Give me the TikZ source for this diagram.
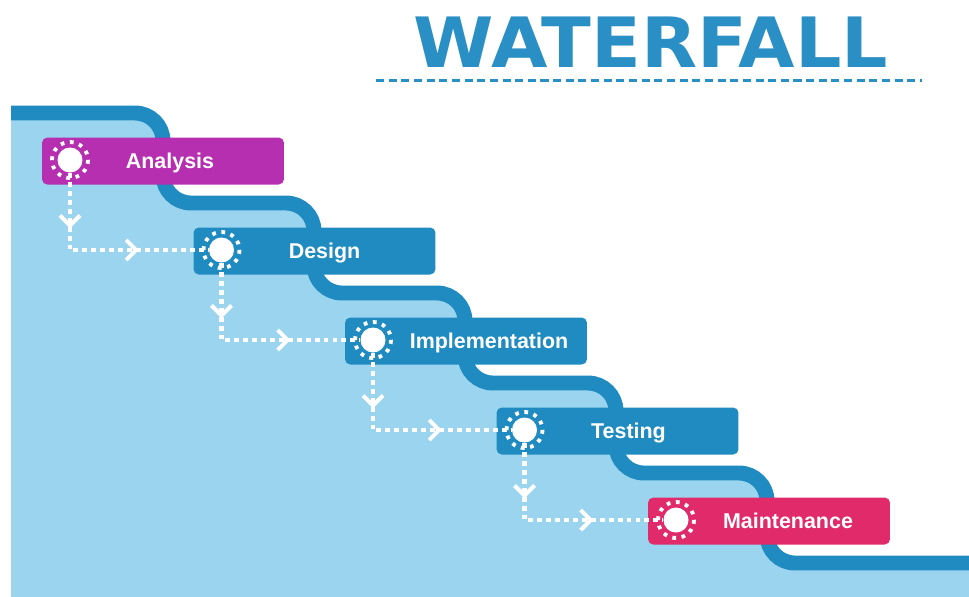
\documentclass[tikz,border=0pt]{standalone}
\usepackage{fontspec}
\setmainfont{Liberation Sans}
\newfontfamily\titlefont{DejaVu Sans}
\usetikzlibrary{decorations.markings}
\definecolor{waterblue}{HTML}{9BD4EE}
\definecolor{stairblue}{HTML}{1F8BC0}
\definecolor{titleblue}{HTML}{2A8FC4}
\definecolor{analysiscol}{HTML}{B52FB0}
\definecolor{maintcol}{HTML}{E02A6A}
\newcommand{\flowtip}{\draw[solid,white,line width=2.3pt] (-7,-10) -- (3,0) -- (-7,10);}

\begin{document}
\begin{tikzpicture}[x=0.02cm,y=-0.02cm,
    stair/.style={draw=stairblue,line width=8.5pt,rounded corners=0.56cm},
    phase/.style={rectangle,rounded corners=3pt,minimum width=4.84cm,minimum height=0.94cm,inner sep=0pt},
    phasetext/.style={anchor=base,text=white,font=\fontsize{12.2}{14}\selectfont\bfseries},
    bullet/.style={circle,fill=white,minimum size=0.5cm,inner sep=0pt},
    ring/.style={draw=white,line width=2.2pt,dash pattern=on 0.075cm off 0.113cm},
    flow/.style={draw=white,line width=2.3pt,dash pattern=on 2.8pt off 2.3pt,
        postaction={decorate},
        decoration={markings,mark=at position 0.23 with {\flowtip},mark=at position 0.65 with {\flowtip}}}]
    \useasboundingbox (0,0) rectangle (969,596);
    \clip (0,0) rectangle (969,596);

    % Title with dashed underline
    \node[anchor=base,text=titleblue,font=\titlefont\fontsize{39.5}{44}\selectfont\bfseries] (title) at (651,67)
        {\scalebox{1.05}[1]{WATERFALL}};
    \draw[titleblue,line width=1.7pt,dash pattern=on 4.6pt off 2.6pt] (376,80) -- (922,80);

    % Water below the stairs
    \fill[waterblue,rounded corners=0.56cm] (11,113) -- (163,113) -- (163,203) -- (314,203) -- (314,293)
        -- (465,293) -- (465,383) -- (616,383) -- (616,473) -- (767,473) -- (767,563) -- (980,563)
        [sharp corners] -- (980,600) -- (11,600) -- cycle;

    % Stair line
    \draw[stair] (11,113) -- (163,113) -- (163,203) -- (314,203) -- (314,293) -- (465,293) -- (465,383)
        -- (616,383) -- (616,473) -- (767,473) -- (767,563) -- (985,563);

    % Phase boxes, bullets and names
    \foreach \name/\txt/\col/\off [count=\i from 0] in
        {ana/Analysis/analysiscol/100, des/Design/stairblue/103, imp/Implementation/stairblue/116,
         tes/Testing/stairblue/104, mai/Maintenance/maintcol/112}
    {
        \pgfmathsetmacro\cx{70+151.5*\i}
        \pgfmathsetmacro\cy{160+90*\i}
        \node[phase,fill=\col] (\name box) at (\cx+93,\cy+1) {};
        \node[bullet] (\name) at (\cx,\cy) {};
        \draw[ring] (\name) circle (18);
        \node[phasetext] (\name text) at (\cx+\off,\cy+8) {\txt};
    }

    % Dotted flow from one phase to the next
    \foreach \a/\b in {ana/des,des/imp,imp/tes,tes/mai}
        \draw[flow] (\a.south) |- (\b.west);
\end{tikzpicture}
\end{document}
